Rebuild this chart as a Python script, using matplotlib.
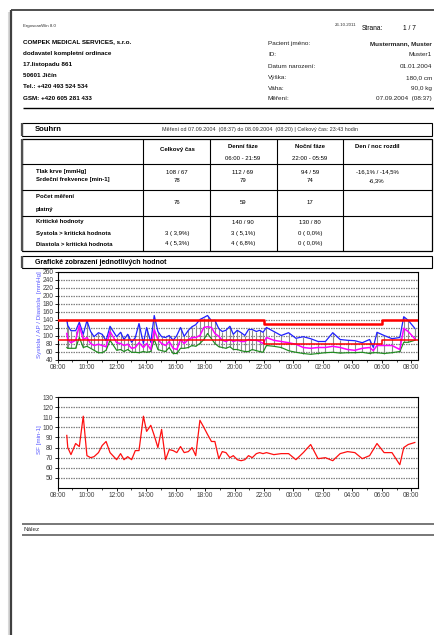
import numpy as np
import matplotlib
matplotlib.use("Agg")
import matplotlib.pyplot as plt
from matplotlib.patches import Rectangle
from matplotlib.ticker import MultipleLocator, FuncFormatter

plt.rcParams['font.family'] = ['Liberation Sans', 'DejaVu Sans']

W, H = 435, 635

# measurement times (07.09.2004 08:37 -> 08.09.2004 08:14)
meas_times = [
    "08:37", "08:41", "08:54", "09:13", "09:28", "09:44", "09:59", "10:14", "10:28", "10:46",
    "11:01", "11:17", "11:33", "12:00", "12:16", "12:30", "12:45", "13:01", "13:16", "13:31",
    "13:49", "14:02", "14:19", "14:33", "14:48", "15:03", "15:19", "15:34", "15:50", "16:05",
    "16:20", "16:35", "16:52", "17:07", "17:22", "17:39", "17:55", "18:10", "18:26", "18:40",
    "18:56", "19:10", "19:25", "19:41", "19:55", "20:11", "20:27", "20:42", "20:57", "21:12",
    "21:29", "21:42", "21:56",
    "22:10", "22:40", "23:10", "23:40", "00:10", "00:40", "01:10", "01:40", "02:10", "02:40",
    "03:10", "03:40", "04:10", "04:40", "05:10", "05:25", "05:40",
    "06:09", "06:41", "07:13", "07:29", "07:47", "08:14",
]
systola = [
    138, 125, 112, 112, 133, 103, 137, 110, 97, 107,
    103, 87, 123, 97, 108, 90, 103, 83, 95, 130,
    80, 120, 83, 150, 110, 97, 95, 100, 88, 100,
    120, 98, 113, 122, 127, 140, 145, 150, 137, 138,
    117, 110, 113, 123, 103, 113, 107, 100, 115, 115,
    110, 113, 108,
    120, 110, 100, 107, 93, 97, 92, 85, 85, 107,
    90, 88, 87, 82, 90, 70, 108,
    100, 92, 95, 147, 138, 118,
]
diastola = [
    70, 68, 68, 68, 95, 70, 73, 68, 63, 57,
    57, 63, 88, 63, 65, 60, 65, 58, 58, 57,
    60, 58, 60, 90, 65, 62, 60, 70, 55, 55,
    68, 68, 70, 75, 73, 80, 90, 105, 92, 80,
    72, 70, 68, 72, 65, 65, 62, 60, 60, 65,
    62, 60, 58,
    75, 73, 70, 62, 58, 55, 53, 55, 57, 58,
    56, 57, 57, 58, 55, 57, 57,
    55, 57, 60, 83, 83, 88,
]
ap_mean = [
    105, 90, 82, 88, 125, 90, 95, 80, 75, 78,
    75, 72, 110, 82, 80, 75, 78, 68, 70, 82,
    70, 80, 65, 115, 90, 80, 75, 85, 68, 65,
    90, 80, 90, 95, 95, 100, 120, 122, 120, 105,
    98, 88, 85, 90, 85, 88, 85, 85, 90, 88,
    88, 85, 80,
    95, 88, 85, 82, 78, 70, 68, 70, 70, 73,
    70, 65, 63, 68, 70, 62, 75,
    75, 75, 65, 118, 110, 92,
]
tepova_frekvence = [
    92, 80, 73, 84, 81, 111, 72, 70, 71, 75,
    82, 86, 75, 68, 74, 68, 71, 68, 77, 77,
    111, 96, 102, 92, 80, 98, 68, 78, 77, 75,
    81, 75, 76, 80, 72, 107, 100, 93, 86, 86,
    69, 76, 75, 70, 72, 68, 67, 68, 72, 70,
    74, 75, 74,
    75, 73, 74, 74, 68, 75, 83, 69, 70, 67,
    74, 76, 75, 69, 72, 78, 84,
    75, 75, 63, 80, 83, 85,
]

# critical limits: day / night / day
limit_times = ["08:00", "22:00", "06:00", "08:27"]
limit_sys = [140, 130, 140]
limit_dia = [90, 80, 90]
axis_end = "08:27"


def hours_from_start(labels):
    hours = []
    for s in labels:
        hh, mm = s.split(":")
        h = (int(hh) - 8) % 24 + int(mm) / 60
        while hours and h < hours[-1]:
            h += 24
        hours.append(h)
    return np.array(hours)


t = hours_from_start(meas_times)
t_lim = hours_from_start(limit_times)
t_end = hours_from_start(["08:00", "22:00", axis_end])[-1]

fig = plt.figure(figsize=(W / 100, H / 100), dpi=100)
bg = fig.add_axes([0, 0, 1, 1])
bg.set_xlim(0, W)
bg.set_ylim(H, 0)
bg.axis("off")


def txt(x, y, s, size=4.5, bold=False, ha="left", color="black"):
    bg.text(x, y, s, fontsize=size, fontweight="bold" if bold else "normal",
            ha=ha, va="center", color=color)


def hline(x0, x1, y, color="black", lw=0.8):
    bg.plot([x0, x1], [y, y], color=color, lw=lw, solid_capstyle="butt")


def vline(x, y0, y1, color="black", lw=0.8):
    bg.plot([x, x], [y0, y1], color=color, lw=lw, solid_capstyle="butt")


# page frame
vline(9, 12, H, color="#d8d8d8", lw=1.5)
vline(11, 10, H, color="#404040", lw=1.6)
hline(11, W, 10, color="#404040", lw=1.3)

# header
txt(23, 25.5, "ErgoscanWin 8.0", size=3.2, color="#303030")
txt(335, 25.5, "26.10.2011", size=3.2, color="#303030")
txt(362, 28, "Strana:", size=4.8)
txt(403, 28, "1 / 7", size=4.8)

left_lines = ["COMPEK MEDICAL SERVICES, s.r.o.", "dodavatel kompletní ordinace",
              "17.listopadu 861", "50601 Jičín", "Tel.: +420 493 524 534",
              "GSM: +420 605 281 433"]
for i, s in enumerate(left_lines):
    txt(23, 42 + i * 11.2, s, size=4.5, bold=True)

pat_labels = ["Pacient jméno:", "ID:", "Datum narození:", "Výška:", "Váha:", "Měření:"]
pat_values = ["Mustermann, Muster", "Muster1", "01.01.2004", "180,0 cm", "90,0 kg",
              "07.09.2004  (08:37)"]
pat_y = [44, 55, 66.5, 78, 88.5, 98.5]
for i, (lab, val) in enumerate(zip(pat_labels, pat_values)):
    txt(268, pat_y[i], lab, size=4.6, color="#202020")
    txt(432, pat_y[i], val, size=4.6, bold=(i == 0), ha="right", color="#202020")

hline(23, W, 107.5, lw=1.0)

# Souhrn bar
x0, x1 = 22, 432
bg.add_patch(Rectangle((x0, 123), x1 - x0, 13, fill=False, ec="black", lw=0.8))
vline(x0, 123, 136, color="#505050", lw=1.6)
txt(35, 129.5, "Souhrn", size=5.5, bold=True)
txt(162, 129.5, "Měření od 07.09.2004  (08:37) do 08.09.2004  (08:20) | Celkový čas: 23:43 hodin",
    size=3.9, color="#303030")

# summary table
tt, tb = 139, 251
rows = [164, 190, 216]
cols = [143, 210, 277, 343]
bg.add_patch(Rectangle((x0, tt), x1 - x0, tb - tt, fill=False, ec="black", lw=0.9))
vline(x0, tt, tb, color="#505050", lw=1.6)
for r in rows:
    hline(x0, x1, r, lw=0.8)
for c in cols:
    vline(c, tt, tb, lw=0.8)

cx = [177, 243, 310, 377]
fs = 4.3
txt(cx[0], 150, "Celkový čas", size=fs, bold=True, ha="center")
txt(cx[1], 147, "Denní fáze", size=fs, bold=True, ha="center")
txt(cx[1], 158, "06:00 - 21:59", size=fs, ha="center")
txt(cx[2], 147, "Noční fáze", size=fs, bold=True, ha="center")
txt(cx[2], 158, "22:00 - 05:59", size=fs, ha="center")
txt(cx[3], 147, "Den / noc rozdíl", size=fs, bold=True, ha="center")

txt(36, 172, "Tlak krve [mmHg]", size=fs, bold=True)
txt(36, 180, "Srdeční frekvence [min-1]", size=fs, bold=True)
row2 = [("108 / 67", "78"), ("112 / 69", "79"), ("94 / 59", "74"), ("-16,1% / -14,5%", "-6,3%")]
for c, (a, b) in zip(cx, row2):
    txt(c, 172, a, size=fs, ha="center")
    txt(c, 181, b, size=fs, ha="center")

txt(36, 197, "Počet měření", size=fs, bold=True)
txt(36, 209, "platný", size=fs, bold=True)
for c, v in zip(cx[:3], ["76", "59", "17"]):
    txt(c, 203, v, size=fs, ha="center")

txt(36, 222, "Kritické hodnoty", size=fs, bold=True)
txt(36, 233.5, "Systola > kritická hodnota", size=fs, bold=True)
txt(36, 244, "Diastola > kritická hodnota", size=fs, bold=True)
row4 = [("", "3 ( 3,9%)", "4 ( 5,3%)"), ("140 / 90", "3 ( 5,1%)", "4 ( 6,8%)"),
        ("130 / 80", "0 ( 0,0%)", "0 ( 0,0%)")]
for c, vals in zip(cx[:3], row4):
    for y, v in zip([222, 233.5, 244], vals):
        txt(c, y, v, size=fs, ha="center")

# Graficke bar
bg.add_patch(Rectangle((x0, 256), x1 - x0, 12, fill=False, ec="black", lw=0.8))
vline(x0, 256, 268, color="#505050", lw=1.6)
txt(35, 262, "Grafické zobrazení jednotlivých hodnot", size=5.0, bold=True)

# Nalez bar
hline(22, W, 524, color="#606060", lw=1.2)
hline(22, W, 535, color="#606060", lw=1.2)
txt(24, 529.5, "Nález", size=4.6, color="#303030")


def make_axes(top, bottom):
    left, right = 57.7, 418
    ax = fig.add_axes([left / W, 1 - bottom / H, (right - left) / W, (bottom - top) / H])
    ax.set_xlim(0, t_end)
    ax.xaxis.set_major_locator(MultipleLocator(2))
    ax.xaxis.set_minor_locator(MultipleLocator(1))
    ax.xaxis.set_major_formatter(FuncFormatter(lambda v, p: f"{(8 + int(round(v))) % 24:02d}:00"))
    ax.tick_params(labelsize=4.8, labelcolor="#404040", length=2, width=0.6, pad=1.2)
    ax.tick_params(which="minor", length=1.5, width=0.5)
    for sp in ax.spines.values():
        sp.set_linewidth(0.8)
    ax.grid(axis="y", color="#808080", ls=(0, (1.2, 0.8)), lw=0.9)
    ax.set_axisbelow(True)
    return ax


# blood pressure chart
ax1 = make_axes(271.5, 359.5)
ax1.set_ylim(40, 260)
ax1.yaxis.set_major_locator(MultipleLocator(20))
ax1.vlines(t, diastola, systola, colors="#8c8c8c", lw=0.8, zorder=2)
ax1.plot(t, diastola, color="#1e8c1e", lw=0.85, zorder=3)
ax1.plot(t, systola, color="#2020ff", lw=0.9, zorder=3)
ax1.plot(t, ap_mean, color="#ff00ff", lw=1.1, zorder=4)
ax1.step(t_lim, limit_sys + [limit_sys[-1]], where="post", color="#ff0000", lw=1.8, zorder=5)
ax1.step(t_lim, limit_dia + [limit_dia[-1]], where="post", color="#ff0000", lw=1.1, zorder=5)
bg.text(40, 315, "Systola / AP / Diastola  [mmHg]", fontsize=4.5, color="#5a5aff",
        rotation=90, ha="center", va="center")

# heart rate chart
ax2 = make_axes(397, 488)
ax2.set_ylim(40, 130)
ax2.set_yticks(np.arange(50, 131, 10))
ax2.grid(axis="y", color="#808080", ls=(0, (1.2, 0.8)), lw=0.9)
ax2.plot(t, tepova_frekvence, color="#ff1010", lw=0.9, zorder=3)
bg.text(40, 440, "SF [min-1]", fontsize=4.5, color="#5a5aff",
        rotation=90, ha="center", va="center")

fig.savefig("out.png", dpi=100)
